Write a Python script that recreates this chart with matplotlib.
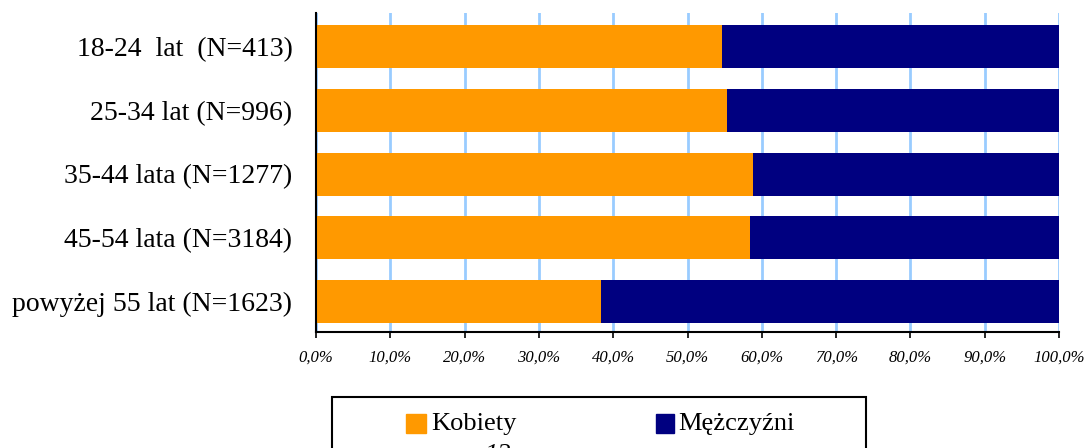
import matplotlib.pyplot as plt
import numpy as np
from matplotlib.patches import Rectangle

plt.rcParams['font.family'] = ['Liberation Serif', 'DejaVu Serif']

groups = ["18-24  lat  (N=413)", "25-34 lat (N=996)", "35-44 lata (N=1277)",
          "45-54 lata (N=3184)", "powyżej 55 lat (N=1623)"]
kobiety = [54.6, 55.3, 58.8, 58.4, 38.4]
mezczyzni = [100 - k for k in kobiety]
ticks = np.arange(0, 101, 10)
tick_labels = ["{:.1f}%".format(t).replace(".", ",") for t in ticks]

fig = plt.figure(figsize=(10.85, 4.48), dpi=100)
ax = fig.add_axes([316 / 1085, 1 - 332 / 448, 743 / 1085, 319 / 448])

y = np.arange(len(groups))
ax.barh(y, kobiety, height=0.675, color="#FF9900", label="Kobiety", zorder=2)
ax.barh(y, mezczyzni, left=kobiety, height=0.675, color="#000080", label="Mężczyźni", zorder=2)

ax.set_xlim(0, 100)
ax.set_ylim(4.48, -0.53)
ax.set_yticks(y)
ax.set_yticklabels(groups, fontsize=20)
ax.set_xticks(ticks)
ax.set_xticklabels(tick_labels, fontsize=12, style="italic")
ax.tick_params(axis="y", length=0, pad=17)
ax.tick_params(axis="x", length=4.5, width=1.2, pad=8, direction="out")
ax.xaxis.grid(True, color="#99ccff", linewidth=2, zorder=0)
ax.set_axisbelow(True)
for s in ["top", "right"]:
    ax.spines[s].set_visible(False)
ax.spines["left"].set_linewidth(1.5)
ax.spines["bottom"].set_linewidth(1.5)

# legend box (cut off at the bottom like in the source)
fig.patches.append(Rectangle((332 / 1085, -0.2), 534 / 1085, 0.2 + 1 - 397 / 448,
                             transform=fig.transFigure, fill=False,
                             edgecolor="black", linewidth=1.5, clip_on=False))
fig.patches.append(Rectangle((406 / 1085, 1 - 433 / 448), 20 / 1085, 19 / 448,
                             transform=fig.transFigure, color="#FF9900"))
fig.patches.append(Rectangle((656 / 1085, 1 - 433 / 448), 18 / 1085, 19 / 448,
                             transform=fig.transFigure, color="#000080"))
fig.text(431 / 1085, 1 - 424 / 448, "Kobiety", fontsize=19, va="center", ha="left")
fig.text(678 / 1085, 1 - 424 / 448, "Mężczyźni", fontsize=19, va="center", ha="left")
fig.text(497 / 1085, 1 - 444 / 448, "12", fontsize=19, style="italic", va="top", ha="center")

fig.savefig("out.png", dpi=100)
